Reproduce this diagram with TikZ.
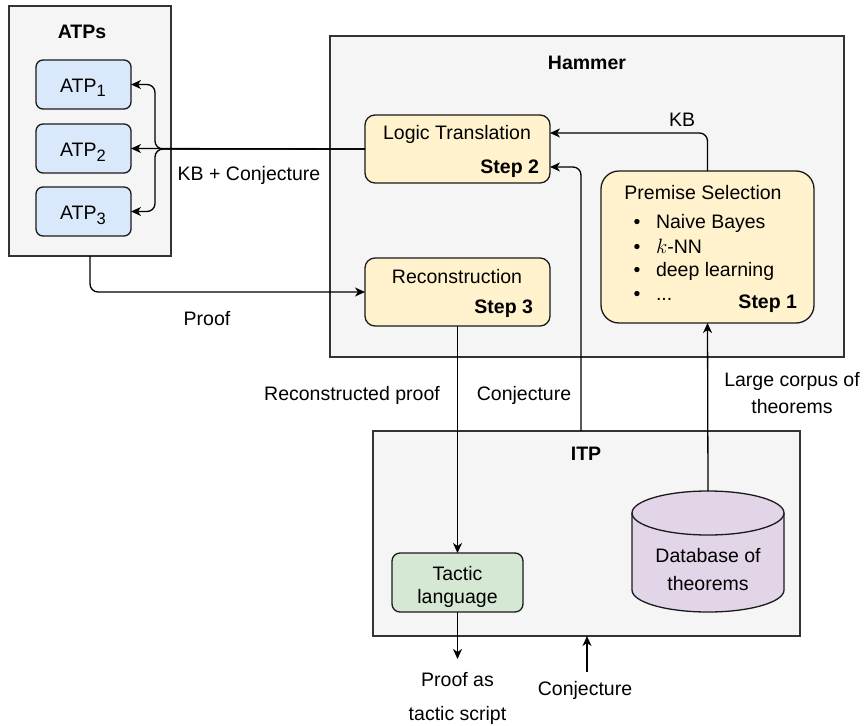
\documentclass[tikz,border=0pt]{standalone}
\usepackage{fontspec}
\setmainfont{Liberation Sans}
\usetikzlibrary{arrows.meta}
\definecolor{groupfill}{HTML}{F5F5F5}
\definecolor{groupline}{HTML}{333333}
\definecolor{stepfill}{HTML}{FFF2CC}
\definecolor{atpfill}{HTML}{DAE8FC}
\definecolor{tacticfill}{HTML}{D5E8D4}
\definecolor{dbfill}{HTML}{E1D5E7}
\definecolor{edge}{HTML}{1A1A1A}
\begin{document}
\begin{tikzpicture}[x=1pt,y=-1pt,
  every node/.style={font=\fontsize{19.5}{23}\selectfont, inner sep=0pt, outer sep=0pt},
  group/.style={draw=groupline, fill=groupfill, line width=1.3pt, anchor=north west},
  stepbox/.style={draw=edge, fill=stepfill, line width=1.3pt, rounded corners=10pt, anchor=north west},
  atpbox/.style={draw=edge, fill=atpfill, line width=1.3pt, rounded corners=7pt, anchor=north west},
  txt/.style={anchor=base},
  title/.style={anchor=base, font=\fontsize{19.5}{23}\selectfont\bfseries},
  steplabel/.style={anchor=base east, font=\fontsize{19.5}{23}\selectfont\bfseries},
  conn/.style={draw=black, line width=1.3pt},
  arr/.style={conn, -{Stealth[length=10pt,width=9pt,inset=3pt]}}
]
\useasboundingbox (0,0) rectangle (866,725);

% containers
\node[group, minimum width=162pt, minimum height=250pt] (atps) at (9,6) {};
\node[group, minimum width=514pt, minimum height=321pt] (hammer) at (330,36) {};
\node[group, minimum width=427pt, minimum height=205pt] (itp) at (373,431) {};

\node[title] (atpstitle) at (82,39) {ATPs};
\node[title] (hammertitle) at (587,69) {Hammer};
\node[title] (itptitle) at (586,460) {ITP};

% the three provers
\newcommand{\atpsub}[1]{ATP\raisebox{-5pt}{\fontsize{16.5}{18}\selectfont #1}}
\node[atpbox, minimum width=95pt, minimum height=49pt] (atp1) at (36,60) {};
\node[atpbox, minimum width=95pt, minimum height=49pt] (atp2) at (36,124) {};
\node[atpbox, minimum width=95pt, minimum height=49pt] (atp3) at (36,187) {};
\node[txt] (atp1t) at (83,92) {\atpsub{1}};
\node[txt] (atp2t) at (83,156) {\atpsub{2}};
\node[txt] (atp3t) at (83,219) {\atpsub{3}};

% hammer steps
\node[stepbox, minimum width=185pt, minimum height=68pt] (lt) at (365,115) {};
\node[txt] (ltt) at (457,139) {Logic Translation};
\node[steplabel] (lts) at (539,173) {Step 2};

\node[stepbox, minimum width=185pt, minimum height=68pt] (rc) at (365,258) {};
\node[txt] (rct) at (457,283) {Reconstruction};
\node[steplabel] (rcs) at (533,313) {Step 3};

\node[stepbox, rounded corners=18pt, minimum width=213pt, minimum height=152pt] (ps) at (601,171) {};
\node[txt] (pst) at (703,199) {Premise Selection};
\node[txt] (b1) at (637,228) {•};
\node[txt] (b2) at (637,253) {•};
\node[txt] (b3) at (637,276) {•};
\node[txt] (b4) at (637,300) {•};
\node[anchor=base west] (l1) at (656,228) {Naive Bayes};
\node[anchor=base west] (l2) at (656,253) {$k$-NN};
\node[anchor=base west] (l3) at (656,276) {deep learning};
\node[anchor=base west] (l4) at (656,300) {...};
\node[steplabel] (pss) at (797,308) {Step 1};

% interactive prover parts
\node[draw=edge, fill=tacticfill, line width=1.3pt, rounded corners=8pt, anchor=north west,
      minimum width=131pt, minimum height=59pt] (tl) at (392,553) {};
\node[txt] (tlt1) at (457.5,580) {Tactic};
\node[txt] (tlt2) at (457.5,603) {language};

\path[draw=edge, fill=dbfill, line width=1.3pt]
  (632,513) -- (632,590) arc[start angle=180, end angle=0, x radius=76, y radius=22]
  -- (784,513) arc[start angle=0, end angle=-180, x radius=76, y radius=22] -- cycle;
\draw[draw=edge, line width=1.3pt] (632,513) arc[start angle=180, end angle=0, x radius=76, y radius=22];
\node[minimum width=152pt, minimum height=121pt] (db) at (708,551.5) {};
\node[txt] (dbt1) at (708,562) {Database of};
\node[txt] (dbt2) at (708,590) {theorems};

% connectors
\coordinate (fork) at (155,149);
\draw[arr] (lt.west) -- (atp2.east);
\draw[arr, rounded corners=8pt] (lt.west) -- (fork) |- (atp1.east);
\draw[arr, rounded corners=8pt] (lt.west) -- (fork) |- (atp3.east);
\node[txt] (kbc) at (249,180) {KB + Conjecture};

\draw[arr, rounded corners=8pt] (atps.south) |- (rc.west);
\node[txt] (prooft) at (207,325) {Proof};

\draw[arr, rounded corners=8pt] (ps.north) |- (lt.east |- 0,133);
\node[txt] (kbt) at (682,126) {KB};

\draw[arr, rounded corners=8pt] (itp.north -| 581,0) |- (lt.east |- 0,167);

\draw[arr] (rc.south) -- (tl.north);
\node[txt] (rpt) at (352,400) {Reconstructed proof};
\node[txt] (cjt) at (524,400) {Conjecture};

\draw[arr] (db.north) -- (ps.south);
\node[txt] (lc1) at (792,386) {Large corpus of};
\node[txt] (lc2) at (792,413) {theorems};

\coordinate (out) at (457.5,659);
\draw[arr] (tl.south) -- (out);
\node[txt] (pa1) at (457.5,686) {Proof as};
\node[txt] (pa2) at (457.5,720) {tactic script};

\coordinate (cin) at (587,672);
\draw[arr] (cin) -- (itp.south -| cin);
\node[txt] (cjb) at (585,695) {Conjecture};
\end{tikzpicture}
\end{document}
